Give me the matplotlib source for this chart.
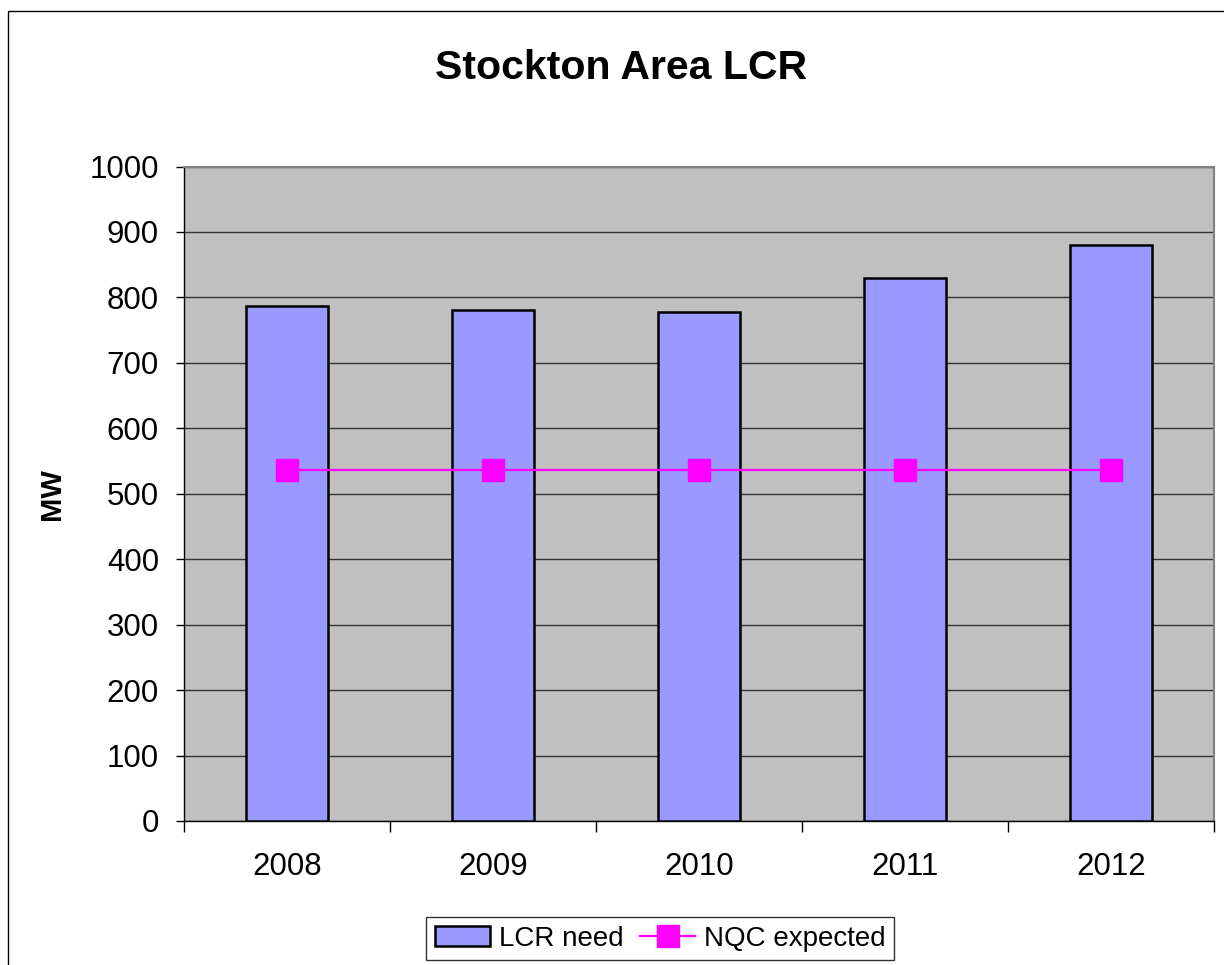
import matplotlib
matplotlib.use("Agg")
import matplotlib.pyplot as plt
from matplotlib.patches import Rectangle
import numpy as np

plt.rcParams['font.family'] = ['Liberation Sans', 'DejaVu Sans']

years = ["2008", "2009", "2010", "2011", "2012"]
lcr_need = [787, 781, 777, 830, 880]
nqc_expected = [537, 537, 537, 537, 537]
yticks = [0, 100, 200, 300, 400, 500, 600, 700, 800, 900, 1000]

fig = plt.figure(figsize=(12.24, 9.65), dpi=100)
fig.patch.set_facecolor('white')

# outer border
fig.patches.append(Rectangle((8/1224, -0.01), 1.2, (965-11)/965 + 0.01,
                             transform=fig.transFigure, fill=False,
                             edgecolor='black', linewidth=1.0))

ax = fig.add_axes([184/1224, (965-821)/965, (1214-184)/1224, (821-166.5)/965])
ax.set_facecolor('#C0C0C0')

x = np.arange(len(years))
bars = ax.bar(x, lcr_need, width=0.40, color='#9999FF', edgecolor='black',
              linewidth=1.8, label='LCR need', zorder=3)
line, = ax.plot(x, nqc_expected, color='#FF00FF', linewidth=1.6, marker='s',
                markersize=15.5, markerfacecolor='#FF00FF', markeredgecolor='#FF00FF',
                label='NQC expected', zorder=4)

ax.set_xlim(-0.5, len(years) - 0.5)
ax.set_ylim(0, 1000)
ax.set_yticks(yticks)
ax.set_yticklabels([str(v) for v in yticks])
ax.yaxis.grid(True, color='#333333', linewidth=1.0, zorder=1)
ax.set_axisbelow(True)

ax.set_xticks(x)
ax.set_xticklabels(years)
ax.set_xticks(np.arange(-0.5, len(years), 1.0), minor=True)
ax.tick_params(axis='x', which='major', length=0, pad=22, labelsize=22.5)
ax.tick_params(axis='x', which='minor', length=8, width=1, direction='out', color='black')
ax.tick_params(axis='y', length=6, width=1, direction='out', pad=12, labelsize=22.5)

for side in ['top', 'right']:
    ax.spines[side].set_color('#808080')
    ax.spines[side].set_linewidth(1.5)
ax.spines['left'].set_color('black')
ax.spines['bottom'].set_color('black')
ax.spines['left'].set_linewidth(1.0)
ax.spines['bottom'].set_linewidth(1.0)

fig.text(621/1224, (965-68)/965, "Stockton Area LCR", ha='center', va='center',
         fontsize=29.5, fontweight='bold')
fig.text(52/1224, (965-494)/965, "MW", ha='center', va='center', rotation=90,
         fontsize=21, fontweight='bold')

leg = fig.legend(handles=[bars, line], labels=['LCR need', 'NQC expected'],
                 loc='center', bbox_to_anchor=(660/1224, (965-938.5)/965),
                 ncol=2, fontsize=20, frameon=True, fancybox=False,
                 handlelength=2.0, handletextpad=0.3, columnspacing=0.6,
                 borderpad=0.3, borderaxespad=0)
leg.get_frame().set_edgecolor('black')
leg.get_frame().set_linewidth(1.0)

fig.savefig('out.png', dpi=100)
